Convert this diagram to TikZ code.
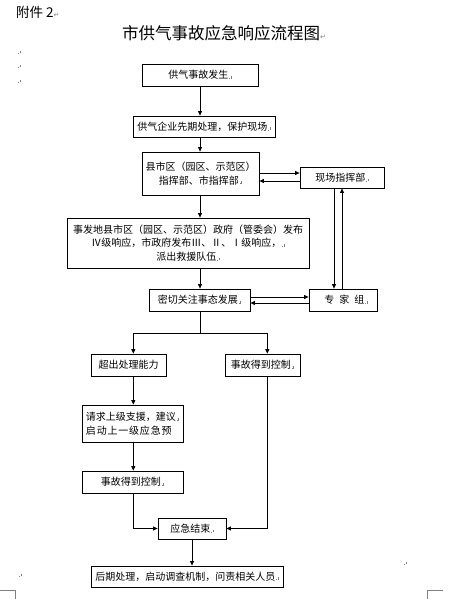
\documentclass[tikz,border=0pt]{standalone}
\usepackage{fontspec}
\setmainfont{Noto Sans CJK SC}
\newfontfamily\dvs{DejaVu Sans}
\usetikzlibrary{arrows.meta}
\newcommand\pmk{\hspace{0.8pt}\textcolor{gray}{\rule{0.7pt}{0.7pt}\hspace{1pt}\rule{0.6pt}{2.8pt}}}
\newcommand\retmk{{\dvs\fontsize{7pt}{7pt}\selectfont\textcolor{gray}{↵}}}
\begin{document}
\begin{tikzpicture}[x=1pt,y=-1pt,
 box/.style={draw, line width=0.8pt, inner sep=0pt, align=center, font=\fontsize{10pt}{13.5pt}\selectfont},
 conn/.style={line width=0.8pt, -{Triangle[length=4.5pt,width=4pt]}},
 ln/.style={line width=0.8pt},
 mk/.style={inner sep=0pt}]
\useasboundingbox (0,0) rectangle (458,599);
% header
\node[anchor=west, inner sep=0pt, font=\fontsize{13.5pt}{14pt}\selectfont] (fj) at (16,12) {附件 2\retmk};
\node[inner sep=0pt, font=\fontsize{16.5pt}{18pt}\selectfont] (title) at (224,33) {市供气事故应急响应流程图\retmk};
\node[mk] (m1) at (19,52) {\pmk};
\node[mk] (m2) at (19,66) {\pmk};
\node[mk] (m3) at (19,81) {\pmk};
\node[mk] (m4) at (405,563) {\pmk};
\node[mk] (m5) at (20,575) {\pmk};
% boxes
\node[box, minimum width=116pt, minimum height=22pt] (b1) at (200,75) {供气事故发生\pmk};
\node[box, minimum width=142pt, minimum height=21pt] (b2) at (204,126.5) {供气企业先期处理，保护现场\pmk};
\node[box, minimum width=117pt, minimum height=43pt] (b3) at (200.5,173.5) {县市区（园区、示范区）\\指挥部、市指挥部\pmk};
\node[box, minimum width=84pt, minimum height=21pt] (xc) at (342,177.5) {现场指挥部\pmk};
\node[box, minimum width=242pt, minimum height=50pt] (b4) at (188,243) {事发地县市区（园区、示范区）政府（管委会）发布\\Ⅳ级响应，市政府发布Ⅲ、Ⅱ、Ⅰ级响应，\pmk\\派出救援队伍\pmk};
\node[box, minimum width=101pt, minimum height=22pt] (mq) at (199.5,300) {密切关注事态发展\pmk};
\node[box, minimum width=68pt, minimum height=22pt] (zj) at (343,300) {\hspace{6pt}专\hspace{5pt}家\hspace{5pt}组\pmk};
\node[box, minimum width=75pt, minimum height=22pt] (cc) at (128.5,365) {超出处理能力};
\node[box, minimum width=75pt, minimum height=22pt] (kr) at (262.5,365) {事故得到控制\pmk};
\node[box, minimum width=101pt, minimum height=37pt, align=left] (qq) at (132.5,423.5) {请求上级支援，建议\pmk\\启\hspace{0.8pt}动\hspace{0.8pt}上\hspace{0.8pt}一\hspace{0.8pt}级\hspace{0.8pt}应\hspace{0.8pt}急\hspace{0.8pt}预};
\node[box, minimum width=101pt, minimum height=22pt] (kl) at (132.5,482) {事故得到控制\pmk};
\node[box, minimum width=68pt, minimum height=21pt] (js) at (192,528.5) {应急结束\pmk};
\node[box, minimum width=192pt, minimum height=21pt] (hq) at (187,576.5) {后期处理，启动调查机制，问责相关人员\pmk};
% guide coordinates
\coordinate (X) at (200,0);
\coordinate (xL) at (133.3,0);
\coordinate (xR) at (267.3,0);
\coordinate (xJ) at (192,0);
\coordinate (x1) at (334,0);
\coordinate (x2) at (342,0);
\coordinate (ya) at (0,173);
\coordinate (yb) at (0,181);
\coordinate (yc) at (0,297);
\coordinate (yd) at (0,303);
\coordinate (br) at (0,333);
% connectors
\draw[conn] (b1.south -| X) -- (b2.north -| X);
\draw[conn] (b2.south -| X) -- (b3.north -| X);
\draw[conn] (b3.east |- ya) -- (xc.west |- ya);
\draw[conn] (xc.west |- yb) -- (b3.east |- yb);
\draw[conn] (b3.south -| X) -- (b4.north -| X);
\draw[conn] (b4.south -| X) -- (mq.north -| X);
\draw[conn] (mq.east |- yc) -- (zj.west |- yc);
\draw[conn] (zj.west |- yd) -- (mq.east |- yd);
\draw[conn] (xc.south -| x1) -- (zj.north -| x1);
\draw[conn] (zj.north -| x2) -- (xc.south -| x2);
\draw[conn] (mq.south -| X) -- (X |- br) -| (cc.north -| xL);
\draw[conn] (X |- br) -| (kr.north -| xR);
\draw[conn] (cc.south -| xL) -- (qq.north -| xL);
\draw[conn] (qq.south -| xL) -- (kl.north -| xL);
\draw[conn] (kl.south -| xL) |- (js.west);
\draw[conn] (kr.south -| xR) |- (js.east);
\draw[conn] (js.south -| xJ) -- (hq.north -| xJ);
% page corner marks
\draw[gray, line width=0.8pt] (0,590) -- (15,590) -- (15,599);
\draw[gray, line width=0.8pt] (427,599) -- (427,590) -- (443,590);
\end{tikzpicture}
\end{document}
